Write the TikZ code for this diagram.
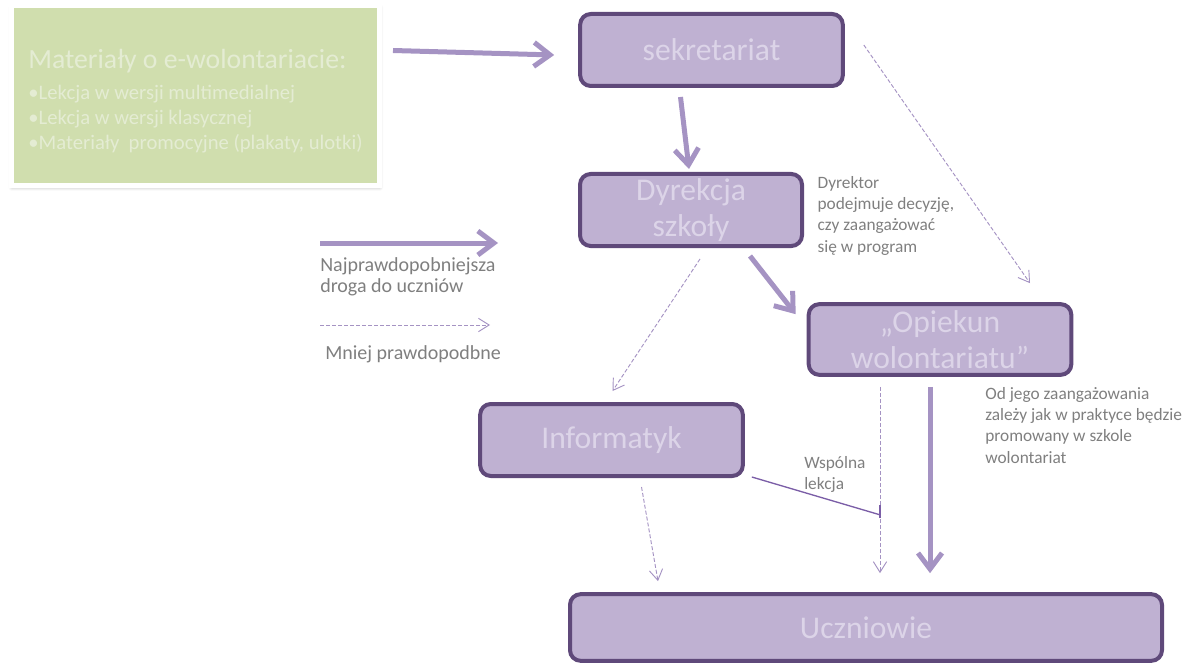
\documentclass[tikz,border=0pt]{standalone}
\usepackage{fontspec}
\setmainfont{Carlito}
\usetikzlibrary{positioning,arrows.meta,calc,shadows.blur}
\definecolor{boxfill}{HTML}{BFB1D2}
\definecolor{boxline}{HTML}{5F497A}
\definecolor{boxtext}{HTML}{DCD4E8}
\definecolor{pathcol}{HTML}{A593C3}
\definecolor{linkcol}{HTML}{7B5EA7}
\definecolor{notecol}{HTML}{7F7F7F}
\definecolor{matfill}{HTML}{D0DEAE}
\definecolor{mattext}{HTML}{E4ECD3}

\begin{document}
\begin{tikzpicture}[x=0.75pt, y=-0.75pt,
  node distance=10pt,
  unit/.style={draw=boxline, line width=3pt, fill=boxfill, rounded corners=8pt, inner sep=0pt, align=center, text=boxtext, font=\fontsize{23.7}{27}\selectfont, minimum width=197pt, minimum height=54pt},
  matbox/.style={fill=matfill, draw=white, line width=3.75pt, blur shadow={shadow xshift=0.3pt, shadow yshift=-1.2pt, shadow blur radius=2.5pt, shadow opacity=30}, minimum width=276pt, minimum height=135pt, inner sep=0pt, align=left, text=mattext, font=\fontsize{15.5}{18.75}\selectfont},
  main/.style={line width=3.75pt, pathcol, -{Straight Barb[length=12pt, width=18pt]}},
  minor/.style={line width=0.7pt, pathcol, dash pattern=on 3pt off 1.5pt, -{Straight Barb[length=8pt, width=10pt]}},
  link/.style={line width=1pt, linkcol},
  note/.style={text=notecol, align=left, inner sep=0pt, font=\fontsize{13}{16}\selectfont},
  legend/.style={note, font=\fontsize{15}{16.3}\selectfont},
]
  \useasboundingbox (0,0) rectangle (1203,663);
  \node[matbox] (mat) at (195.5,96) {{\fontsize{20.8}{22}\selectfont\rule{0pt}{22pt}Materiały o e-wolontariacie:}\\[5pt]
    •Lekcja w wersji multimedialnej\\•Lekcja w wersji klasycznej\\•Materiały\ \ promocyjne (plakaty, ulotki)};
  \node[unit] (sekr) at (711.5,50) {sekretariat};
  \node[unit, minimum width=166.5pt] (dyr) at (691,210) {Dyrekcja\\szkoły};
  \node[unit, minimum height=53pt] (opiek) at (940,339.5) {„Opiekun\\wolontariatu”};
  \node[unit] (inf) at (611.5,440) {Informatyk};
  \node[unit, minimum width=444pt, minimum height=50pt] (ucz) at (866,627.5) {Uczniowie};
  \node[note, right=10pt of dyr.north east, anchor=north west, yshift=-3pt] (dyrnote) {Dyrektor\\podejmuje decyzję,\\czy zaangażować\\się w program};
  \node[note, anchor=north west] (opnote) at (985,387) {Od jego zaangażowania\\zależy jak w praktyce będzie\\promowany w szkole\\wolontariat};
  \node[note, anchor=north west] (wsp) at (804,456) {Wspólna\\lekcja};
  \coordinate (lgA) at (320,243);
  \coordinate (lgB) at (498,243);
  \coordinate (lgC) at (320,325);
  \coordinate (lgD) at (490,325);
  \node[legend, anchor=north west] (lgtxtA) at (320,257) {Najprawdopobniejsza\\droga do uczniów};
  \node[legend, anchor=north west] (lgtxtB) at (325,345) {Mniej prawdopodbne};
  \draw[main] ($(mat.north east)+(11,47)$) -- ($(sekr.west)+(-24,5)$);
  \draw[main] ($(sekr.south)+(-31,9)$) -- ($(dyr.north)+(-2,-3)$);
  \draw[main] ($(dyr.south east)+(-54,8)$) -- ($(opiek.north west)+(-11,12)$);
  \draw[main] ($(opiek.south)+(-10,10)$) -- ($(ucz.north)+(64,-19)$);
  \draw[minor] ($(sekr.east)+(19,-5)$) -- ($(opiek.north)+(90,-19)$);
  \draw[minor] ($(dyr.south)+(9,11)$) -- ($(inf.north)+(1,-11)$);
  \draw[minor] ($(inf.south)+(30,9)$) -- ($(ucz.north west)+(90,-11)$);
  \draw[minor] ($(opiek.south)+(-60,10)$) -- ($(ucz.north)+(14,-19)$);
  \coordinate (joint) at ($(opiek.south)+(-60,138)$);
  \draw[link] ($(inf.south east)+(7,-1)$) -- (joint);
  \draw[link] ($(joint)+(0,-10)$) -- ($(joint)+(0,3)$);
  \draw[main] (lgA) -- (lgB);
  \draw[minor] (lgC) -- (lgD);
\end{tikzpicture}
\end{document}
